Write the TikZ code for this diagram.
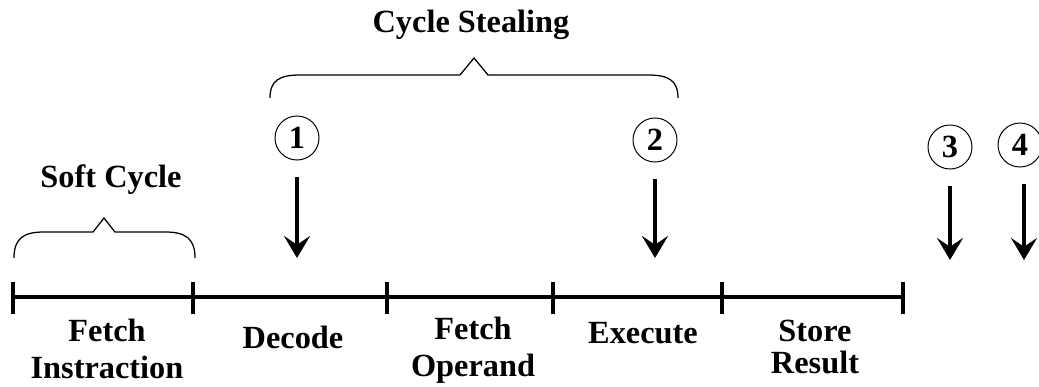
\documentclass[tikz,border=0pt]{standalone}
\usepackage{fontspec}
\setmainfont{Liberation Serif}
\usetikzlibrary{arrows.meta}

\begin{document}
\begin{tikzpicture}[x=0.025cm, y=-0.025cm, >={Stealth[length=5.5mm, width=6.5mm, inset=2.2mm]},
    every node/.style={font=\bfseries\fontsize{23}{26}\selectfont, align=center, inner sep=1pt},
    num/.style={draw, circle, line width=0.7pt, minimum size=1.1cm, inner sep=0pt},
    brace/.style={line width=0.9pt}]
    \useasboundingbox (0,0) rectangle (1039,387);

    % time line
    \draw[line width=2.2pt] (13,297) -- (903,297);
    \foreach \x in {13,193,387,553,722,903}
        \draw[line width=2.2pt] (\x,282) -- (\x,314);

    \node (fi) at (107,349) {Fetch\\Instraction};
    \node (dec) at (293,337) {Decode};
    \node (fo) at (473,350) {Fetch\\Operand};
    \node (exe) at (643,333) {Execute};
    \node (sr) at (815,347) {Store\\[-3pt]Result};

    % braces
    \draw[brace] (14,258) .. controls (14,238) and (24,232) .. (44,232) -- (93,232) -- (104,218)
        -- (115,232) -- (165,232) .. controls (185,232) and (195,238) .. (195,258);
    \draw[brace] (270,98) .. controls (270,80) and (280,75) .. (300,75) -- (460,75) -- (474,58)
        -- (488,75) -- (648,75) .. controls (668,75) and (678,80) .. (678,98);
    \node (soft) at (111,180) {Soft Cycle};
    \node (steal) at (471,25) {Cycle Stealing};

    % interrupt points
    \node[num] (c1) at (297,138) {1};
    \node[num] (c2) at (655,140) {2};
    \node[num] (c3) at (950,147) {3};
    \node[num] (c4) at (1020,145) {4};

    \coordinate (p1) at (297,258);
    \coordinate (p2) at (655,258);
    \coordinate (p3) at (950,260);
    \coordinate (p4) at (1024,260);

    \foreach \i in {1,2,3,4}
        \draw[->, line width=2.4pt, shorten <=0.42cm] (c\i.south -| p\i) -- (p\i);
\end{tikzpicture}
\end{document}
